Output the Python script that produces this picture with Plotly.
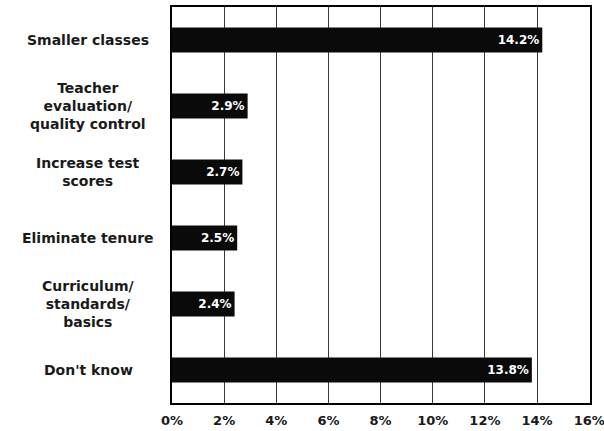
import plotly.graph_objects as go

categories = ["Smaller classes", "Teacher<br>evaluation/<br>quality control", "Increase test<br>scores",
              "Eliminate tenure", "Curriculum/<br>standards/<br>basics", "Don't know"]
values = [14.2, 2.9, 2.7, 2.5, 2.4, 13.8]
bar_labels = ["14.2%", "2.9%", "2.7%", "2.5%", "2.4%", "13.8%"]
tick_vals = [0, 2, 4, 6, 8, 10, 12, 14, 16]
tick_text = ["0%", "2%", "4%", "6%", "8%", "10%", "12%", "14%", "16%"]

font_fam = "DejaVu Sans, Arial, sans-serif"

fig = go.Figure()
fig.add_trace(go.Bar(
    y=list(range(len(categories))), x=values, orientation="h",
    marker=dict(color="#0a0a0a", line=dict(width=0)),
    width=0.38,
    text=bar_labels, textposition="inside", insidetextanchor="end",
    textfont=dict(color="white", size=12, family=font_fam, weight="bold"),
    cliponaxis=False,
))

for i, c in enumerate(categories):
    fig.add_annotation(x=-0.2, xref="paper", y=i, yref="y", text=c, showarrow=False,
                       align="center", xanchor="center", yanchor="middle",
                       font=dict(size=14, color="#1a1a1a", family=font_fam, weight="bold"))

fig.update_layout(
    width=604, height=431,
    margin=dict(l=172, r=14, t=7, b=28),
    paper_bgcolor="white", plot_bgcolor="white",
    showlegend=False,
    bargap=0.6,
    xaxis=dict(range=[0, 16.03], tickvals=tick_vals, ticktext=tick_text,
               showgrid=True, gridcolor="#3a3a3a", gridwidth=1.3, griddash="solid",
               showline=True, linecolor="black", linewidth=2, mirror=True,
               ticks="", zeroline=False, ticklabelstandoff=4, automargin=False,
               ticklabeloverflow="allow",
               tickfont=dict(size=13, color="#1a1a1a", family=font_fam, weight="bold")),
    yaxis=dict(range=[5.5, -0.5], showticklabels=False, showgrid=False,
               showline=True, linecolor="black", linewidth=2, mirror=True,
               ticks="", zeroline=False, automargin=False),
)

fig.write_html("out.html", config={"displayModeBar": False},
               post_script="document.body.style.margin='0';")
